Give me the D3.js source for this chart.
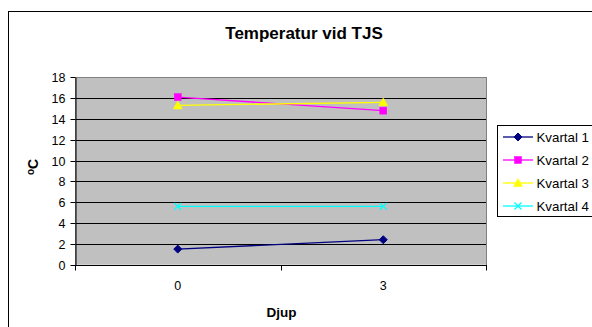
<!DOCTYPE html>
<html><head><meta charset="utf-8">
<script src="https://cdn.jsdelivr.net/npm/d3@7"></script>
<style>body{margin:0;background:#fff}svg{display:block}text{font-family:"Liberation Sans",Arial,sans-serif}</style>
</head><body>
<svg id="c" width="592" height="327"></svg>
<script>
const categories = ["0", "3"];
const seriesNames = ["Kvartal 1", "Kvartal 2", "Kvartal 3", "Kvartal 4"];
const kvartal1 = [1.5, 2.4];
const kvartal2 = [16.1, 14.8];
const kvartal3 = [15.3, 15.6];
const kvartal4 = [5.6, 5.6];
const yTicks = [0, 2, 4, 6, 8, 10, 12, 14, 16, 18];
const colors = ["#000080", "#FF00FF", "#FFFF00", "#00FFFF"];
const markers = ["diamond", "square", "triangle", "x"];
const seriesValues = [kvartal1, kvartal2, kvartal3, kvartal4];

const svg = d3.select("#c");
// outer chart border
svg.append("rect").attr("x", 8.5).attr("y", 11.5).attr("width", 600).attr("height", 330)
  .attr("fill", "#fff").attr("stroke", "#000").attr("stroke-width", 1);

const L = 75, R = 486, T = 77.3, B = 264.7;
const x = d3.scaleBand().domain(categories).range([L, R]);
const y = d3.scaleLinear().domain([0, 18]).range([B, T]);

svg.append("rect").attr("x", L).attr("y", T).attr("width", R - L).attr("height", B - T).attr("fill", "#C0C0C0");
svg.append("g").selectAll("line").data(yTicks.slice(1)).join("line")
  .attr("x1", L).attr("x2", R).attr("y1", d => Math.round(y(d)) + 0.5).attr("y2", d => Math.round(y(d)) + 0.5)
  .attr("stroke", "#000").attr("stroke-width", 1);
svg.append("rect").attr("x", L + 0.5).attr("y", Math.round(T) + 0.5).attr("width", R - L).attr("height", Math.round(B) - Math.round(T))
  .attr("fill", "none").attr("stroke", "#808080").attr("stroke-width", 1);

// y axis
const yAxis = d3.axisLeft(y).tickValues(yTicks).tickSize(5).tickPadding(5).tickSizeOuter(0);
const gy = svg.append("g").attr("transform", `translate(${L + 0.5},0)`).call(yAxis);
gy.selectAll("text").attr("font-size", 12.5).attr("fill", "#000").attr("font-family", '"Liberation Sans",Arial,sans-serif');
gy.selectAll("line,path").attr("stroke", "#000");
gy.selectAll(".tick").attr("transform", d => `translate(0,${Math.round(y(d)) + 0.5})`);

// x axis
const gx = svg.append("g").attr("transform", `translate(0,${Math.round(B) + 0.5})`);
gx.append("line").attr("x1", L).attr("x2", R + 1).attr("stroke", "#000");
const bounds = [L, L + x.bandwidth(), R];
gx.selectAll(".tk").data(bounds).join("line").attr("class", "tk")
  .attr("x1", d => Math.round(d) + 0.5).attr("x2", d => Math.round(d) + 0.5).attr("y1", 0).attr("y2", 5).attr("stroke", "#000");
gx.selectAll("text").data(categories).join("text")
  .attr("x", d => x(d) + x.bandwidth() / 2).attr("y", 24.5).attr("text-anchor", "middle")
  .attr("font-size", 12.5).text(d => d);

// titles
svg.append("text").attr("x", 304).attr("y", 38.5).attr("text-anchor", "middle")
  .attr("font-size", 17).attr("font-weight", "bold").text("Temperatur vid TJS");
svg.append("text").attr("x", 281.5).attr("y", 316.5).attr("text-anchor", "middle")
  .attr("font-size", 13.5).attr("font-weight", "bold").text("Djup");
const yl = svg.append("text").attr("transform", "translate(38,167) rotate(-90)").attr("text-anchor", "middle")
  .attr("font-size", 14).attr("font-weight", "bold");
yl.append("tspan").attr("font-size", 10).attr("dy", -4).text("o");
yl.append("tspan").attr("dy", 4).text("C");

function drawMarker(g, type, color) {
  if (type === "diamond") g.append("path").attr("d", "M0,-4L4,0L0,4L-4,0Z").attr("fill", color).attr("stroke", color);
  else if (type === "square") g.append("rect").attr("x", -3.5).attr("y", -3.5).attr("width", 7).attr("height", 7).attr("fill", color).attr("stroke", color).attr("stroke-width", 0.5);
  else if (type === "triangle") g.append("path").attr("d", "M0,-4.5L4.5,3.5L-4.5,3.5Z").attr("fill", color).attr("stroke", color).attr("stroke-width", 0.5);
  else g.append("path").attr("d", "M-3.5,-3.5L3.5,3.5M-3.5,3.5L3.5,-3.5").attr("stroke", color).attr("stroke-width", 1.3).attr("fill", "none");
}

const line = d3.line().x((d, i) => x(categories[i]) + x.bandwidth() / 2).y(d => y(d));
seriesValues.forEach((vals, si) => {
  svg.append("path").datum(vals).attr("d", line).attr("fill", "none").attr("stroke", colors[si]).attr("stroke-width", 1.3);
  vals.forEach((v, i) => {
    const g = svg.append("g").attr("transform", `translate(${x(categories[i]) + x.bandwidth() / 2},${y(v)})`);
    drawMarker(g, markers[si], colors[si]);
  });
});

// legend
const lg = svg.append("g");
lg.append("rect").attr("x", 497.5).attr("y", 125.5).attr("width", 100).attr("height", 91).attr("fill", "#fff").attr("stroke", "#000");
seriesNames.forEach((n, i) => {
  const yy = 137 + i * 23;
  lg.append("line").attr("x1", 503).attr("x2", 533).attr("y1", yy).attr("y2", yy).attr("stroke", colors[i]).attr("stroke-width", 1.3);
  const g = lg.append("g").attr("transform", `translate(518,${yy})`);
  drawMarker(g, markers[i], colors[i]);
  lg.append("text").attr("x", 536.5).attr("y", yy + 4.5).attr("font-size", 13.3).text(n);
});
</script>
</body></html>
